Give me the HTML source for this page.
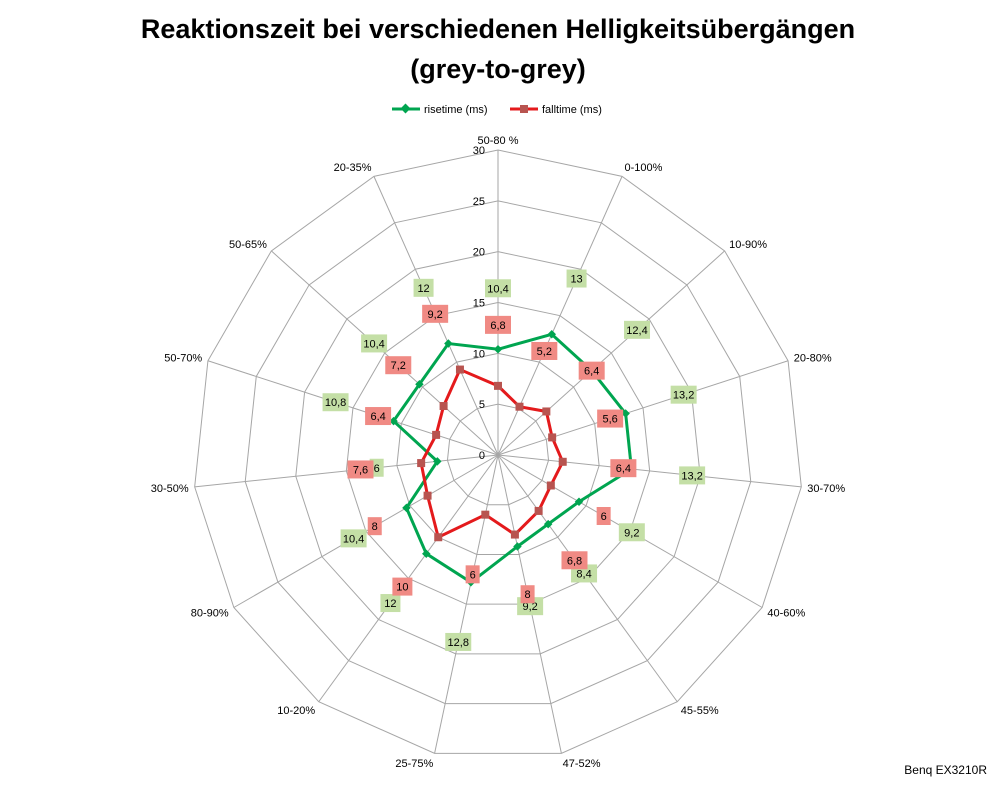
<!DOCTYPE html>
<html><head><meta charset="utf-8"><style>
body{margin:0;background:#fff;}
svg text{font-family:"Liberation Sans",sans-serif;}
</style></head><body>
<svg id="chart" width="998" height="786" xmlns="http://www.w3.org/2000/svg">
<text x="498" y="38" text-anchor="middle" font-size="27" font-weight="bold">Reaktionszeit bei verschiedenen Helligkeitsübergängen</text>
<text x="498" y="78" text-anchor="middle" font-size="27" font-weight="bold">(grey-to-grey)</text>
<g>
<g><line x1="392" y1="109" x2="420" y2="109" stroke="#00a550" stroke-width="3"/><rect x="402" y="105" width="7" height="7" fill="#00a550" transform="rotate(45 405.5 108.5)"/><text x="424" y="113" font-size="11">risetime (ms)</text></g>
<g><line x1="510" y1="109" x2="538" y2="109" stroke="#e41a1c" stroke-width="3"/><rect x="520" y="105" width="8" height="8" fill="#b85450"/><text x="542" y="113" font-size="11">falltime (ms)</text></g>
</g>
<text x="987" y="774" text-anchor="end" font-size="12">Benq EX3210R</text>
<g id="grid"></g><g id="series"></g><g id="labels"></g>
</svg>
<script>
const categories=["50-80 %","0-100%","10-90%","20-80%","30-70%","40-60%","45-55%","47-52%","25-75%","10-20%","80-90%","30-50%","50-70%","50-65%","20-35%"];
const risetime=[10.4,13,12.4,13.2,13.2,9.2,8.4,9.2,12.8,12,10.4,6,10.8,10.4,12];
const falltime=[6.8,5.2,6.4,5.6,6.4,6,6.8,8,6,10,8,7.6,6.4,7.2,9.2];
const ticks=[0,5,10,15,20,25,30];
const cx=498,cy=455,R=305,maxV=30;
const NS="http://www.w3.org/2000/svg";
const n=categories.length;
function ang(i){return i*2*Math.PI/n;}
function pt(i,v){const a=ang(i),r=v/maxV*R;return [cx+r*Math.sin(a),cy-r*Math.cos(a)];}
function mk(tag,attrs,parent){const e=document.createElementNS(NS,tag);for(const k in attrs)e.setAttribute(k,attrs[k]);parent.appendChild(e);return e;}
const grid=document.getElementById('grid'),series=document.getElementById('series'),labels=document.getElementById('labels');
ticks.forEach(t=>{if(t===0)return;
 const p=mk('polygon',{points:categories.map((c,i)=>pt(i,t).join(',')).join(' '),fill:'none',stroke:'#a6a6a6','stroke-width':1},grid);
 
 
});
categories.forEach((c,i)=>{
 const e=pt(i,maxV);
 const l=mk('line',{x1:cx,y1:cy,x2:e[0],y2:e[1],stroke:'#a6a6a6','stroke-width':1},grid);
 
 
 const a=ang(i),s=Math.sin(a),co=Math.cos(a);
 const lx=cx+(R+6)*s,ly=cy-(R+10)*co+4;
 const anchor=s>0.1?'start':(s<-0.1?'end':'middle');
 const t=mk('text',{x:lx,y:ly,'text-anchor':anchor,'font-size':11},grid);
 t.textContent=c;
 
 
});
ticks.forEach(t=>{
 const p=pt(0,t);
 const tx=mk('text',{x:p[0]-13,y:p[1]+4,'text-anchor':'end','font-size':11},grid);
 tx.textContent=t;
 
 
});
function drawSeries(vals,color,markerColor,shape,lblColor,name){
 const pts=vals.map((v,i)=>pt(i,v));
 const pg=mk('polygon',{points:pts.map(p=>p.join(',')).join(' '),fill:'none',stroke:color,'stroke-width':3},series);
 
 
 pts.forEach((p,i)=>{
  let m;
  if(shape==='diamond')m=mk('rect',{x:p[0]-3,y:p[1]-3,width:6,height:6,fill:markerColor,transform:`rotate(45 ${p[0]} ${p[1]})`},series);
  else m=mk('rect',{x:p[0]-4,y:p[1]-4,width:8,height:8,fill:markerColor},series);
  
  
  const lp=pt(i,vals[i]+6);
  const txt=String(vals[i]).replace('.',',');
  const w=txt.length>2?26:(txt.length>1?20:14);
  const b=mk('rect',{x:lp[0]-w/2,y:lp[1]-9,width:w,height:18,fill:lblColor},labels);
  
  
  const tt=mk('text',{x:lp[0],y:lp[1]+4,'text-anchor':'middle','font-size':11},labels);
  tt.textContent=txt;
  
  
 });
}
drawSeries(risetime,'#00a550','#00a550','diamond','#c4dfa6','risetime');
drawSeries(falltime,'#e41a1c','#b85450','square','#f08a84','falltime');
</script>
</body></html>
